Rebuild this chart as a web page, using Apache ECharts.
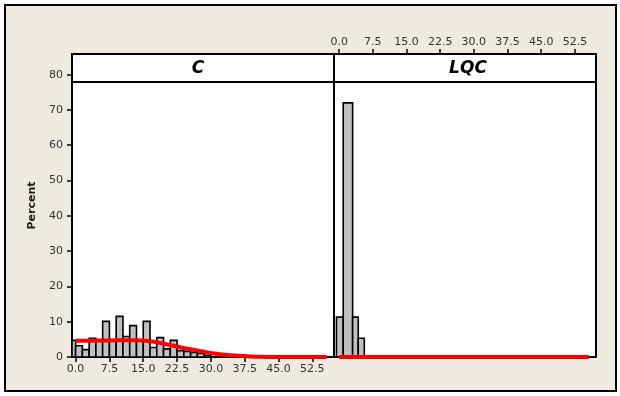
<!DOCTYPE html>
<html>
<head>
<meta charset="utf-8">
<script src="https://cdn.jsdelivr.net/npm/echarts@6/dist/echarts.min.js"></script>
<style>
  html, body { margin: 0; padding: 0; background: #fff; }
  #main { width: 620px; height: 396px; }
</style>
</head>
<body>
<div id="main"></div>
<script>
  // 数据
  var panelNames = ['C', 'LQC'];
  var percentTicks = [0, 10, 20, 30, 40, 50, 60, 70, 80];
  var xTicks = [0, 7.5, 15, 22.5, 30, 37.5, 45, 52.5];

  // C 直方图 (区间下限, 上限, 百分比)
  var cBinLow = [-1.5, 0, 1.5, 3, 4.5, 6, 7.5, 9, 10.5, 12, 13.5, 15, 16.5, 18, 19.5, 21, 22.5, 24, 25.5, 27, 28.5];
  var cBinHigh = [0, 1.5, 3, 4.5, 6, 7.5, 9, 10.5, 12, 13.5, 15, 16.5, 18, 19.5, 21, 22.5, 24, 25.5, 27, 28.5, 30];
  var cPercent = [4.7, 3.2, 2.1, 5.3, 4.6, 10.1, 4.5, 11.5, 5.8, 8.9, 4.6, 10.1, 2.7, 5.5, 2.3, 4.7, 1.8, 1.6, 1.3, 1.0, 0.5];

  // LQC 直方图
  var lqcBinLow = [-0.6, 0.9, 3.0, 4.25];
  var lqcBinHigh = [0.9, 3.0, 4.25, 5.6];
  var lqcPercent = [11.3, 72, 11.3, 5.3];

  // 拟合曲线
  var cFitX = [0, 3, 7.5, 12, 15, 17, 18.7, 20.5, 22.4, 24.2, 26.1, 28, 29.8, 31.6, 33.5, 35.3, 37.2, 39, 40.9, 44, 50, 55.7];
  var cFitY = [4.6, 4.6, 4.7, 4.75, 4.7, 4.4, 4.0, 3.5, 3.0, 2.5, 2.05, 1.6, 1.15, 0.85, 0.6, 0.45, 0.3, 0.15, 0.05, 0, 0, 0];
  var lqcFitX = [0, 55.6];
  var lqcFitY = [0, 0];

  function zip3(a, b, c) {
    var out = [];
    for (var i = 0; i < a.length; i++) out.push([a[i], b[i], c[i]]);
    return out;
  }
  function zip2(a, b) {
    var out = [];
    for (var i = 0; i < a.length; i++) out.push([a[i], b[i]]);
    return out;
  }

  function renderBar(params, api) {
    var p0 = api.coord([api.value(0), api.value(2)]);
    var p1 = api.coord([api.value(1), 0]);
    var shape = echarts.graphic.clipRectByRect({
      x: p0[0], y: p0[1], width: p1[0] - p0[0], height: p1[1] - p0[1]
    }, {
      x: params.coordSys.x, y: params.coordSys.y,
      width: params.coordSys.width, height: params.coordSys.height
    });
    return shape && {
      type: 'rect',
      shape: shape,
      style: { fill: '#C0C0C0', stroke: '#000', lineWidth: 1.6 }
    };
  }

  var labelFont = { fontFamily: 'DejaVu Sans', fontSize: 11, color: '#333' };
  var tickStyle = { show: true, length: 5, lineStyle: { color: '#000', width: 1.5 } };

  var chart = echarts.init(document.getElementById('main'));
  var option = {
    backgroundColor: '#fff',
    animation: false,
    graphic: [
      {
        type: 'rect', z: -100, silent: true,
        shape: { x: 5, y: 5, width: 611, height: 386 },
        style: { fill: '#EEEAE0', stroke: '#000', lineWidth: 2 }
      },
      // 标题条
      {
        type: 'line', z: 100,
        shape: { x1: 72, y1: 82, x2: 596, y2: 82 },
        style: { stroke: '#000', lineWidth: 2 }
      },
      {
        type: 'text', z: 100, x: 198, y: 69,
        style: { text: panelNames[0], font: 'italic bold 17px "DejaVu Sans"', fill: '#000', textAlign: 'center', textVerticalAlign: 'middle' }
      },
      {
        type: 'text', z: 100, x: 468, y: 69,
        style: { text: panelNames[1], font: 'italic bold 17px "DejaVu Sans"', fill: '#000', textAlign: 'center', textVerticalAlign: 'middle' }
      }
    ],
    grid: [
      { left: 72, top: 54, width: 262, height: 303, show: true, backgroundColor: '#fff', borderColor: '#000', borderWidth: 2 },
      { left: 334, top: 54, width: 262, height: 303, show: true, backgroundColor: '#fff', borderColor: '#000', borderWidth: 2 }
    ],
    xAxis: [
      {
        type: 'value', gridIndex: 0, position: 'bottom',
        min: -0.8, max: 57.3,
        axisLine: { show: true, onZero: false, lineStyle: { color: '#000', width: 2 } },
        axisTick: Object.assign({ customValues: xTicks }, tickStyle),
        axisLabel: Object.assign({
          customValues: xTicks, margin: 7,
          formatter: function (v) { return v.toFixed(1); }
        }, labelFont),
        splitLine: { show: false }
      },
      {
        type: 'value', gridIndex: 1, position: 'top',
        min: -1.15, max: 57.2,
        axisLine: { show: true, onZero: false, lineStyle: { color: '#000', width: 2 } },
        axisTick: Object.assign({ customValues: xTicks }, tickStyle),
        axisLabel: Object.assign({
          customValues: xTicks, margin: 6,
          formatter: function (v) { return v.toFixed(1); }
        }, labelFont),
        splitLine: { show: false }
      }
    ],
    yAxis: [
      {
        type: 'value', gridIndex: 0,
        min: 0, max: 85.85,
        name: 'Percent', nameLocation: 'middle', nameGap: 34,
        nameTextStyle: { fontFamily: 'DejaVu Sans', fontSize: 11, fontWeight: 'bold', color: '#222' },
        axisLine: { show: true, onZero: false, lineStyle: { color: '#000', width: 2 } },
        axisTick: Object.assign({ customValues: percentTicks }, tickStyle),
        axisLabel: Object.assign({ customValues: percentTicks, margin: 9 }, labelFont),
        splitLine: { show: false }
      },
      {
        type: 'value', gridIndex: 1,
        min: 0, max: 85.85,
        axisLine: { show: false, onZero: false }, axisTick: { show: false }, axisLabel: { show: false },
        splitLine: { show: false }
      }
    ],
    series: [
      {
        type: 'custom', xAxisIndex: 0, yAxisIndex: 0,
        renderItem: renderBar,
        encode: { x: [0, 1], y: 2 },
        data: zip3(cBinLow, cBinHigh, cPercent)
      },
      {
        type: 'custom', xAxisIndex: 1, yAxisIndex: 1,
        renderItem: renderBar,
        encode: { x: [0, 1], y: 2 },
        data: zip3(lqcBinLow, lqcBinHigh, lqcPercent)
      },
      {
        type: 'line', xAxisIndex: 0, yAxisIndex: 0, z: 5,
        showSymbol: false, smooth: 0.3, smoothMonotone: 'x',
        lineStyle: { color: '#FF0000', width: 4 },
        data: zip2(cFitX, cFitY)
      },
      {
        type: 'line', xAxisIndex: 1, yAxisIndex: 1, z: 5,
        showSymbol: false,
        lineStyle: { color: '#FF0000', width: 4 },
        data: zip2(lqcFitX, lqcFitY)
      }
    ]
  };
  chart.setOption(option);
</script>
</body>
</html>
